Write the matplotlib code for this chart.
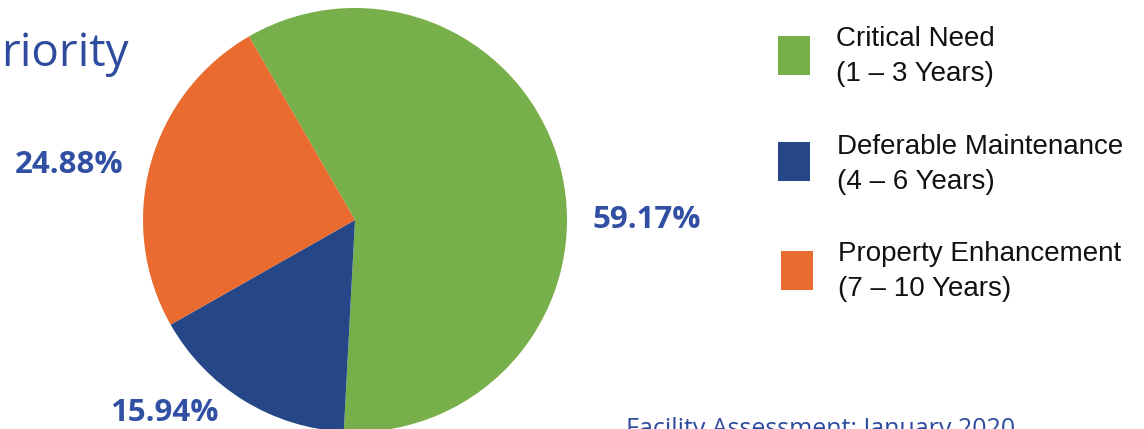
import numpy as np
import matplotlib.pyplot as plt
from matplotlib.patches import Rectangle

# data
categories = ['Critical Need', 'Deferable Maintenance', 'Property Enhancement']
periods = ['(1 – 3 Years)', '(4 – 6 Years)', '(7 – 10 Years)']
shares = [59.17, 15.94, 24.88]
colors = ['#77AF4B', '#264787', '#E96B2F']

# layout (pixel coords, y up)
W, H = 1144, 429
center = (355, 209)
radius = 212
label_pos = [(647, 209), (164, 16), (69, 264)]
legend_x = [778, 778, 781]
legend_y = [55, 161, 270]      # centre of each square (pixels from top)
text_x = [836, 837, 838]
text_y = [39, 147, 254]

fig = plt.figure(figsize=(W / 100, H / 100), dpi=100)
ax = fig.add_axes([0, 0, 1, 1])

ax.pie(shares, colors=colors, startangle=120, counterclock=False,
       center=center, radius=radius, wedgeprops=dict(linewidth=0),
       frame=True)
ax.set_xlim(0, W)
ax.set_ylim(0, H)
ax.set_aspect('equal')
ax.axis('off')

label_color = '#3150A3'
for v, (x, y) in zip(shares, label_pos):
    ax.text(x, y, f'{v:.2f}%', ha='center', va='center', fontsize=22.5,
            fontweight='bold', family='Open Sans', color=label_color)

# legend drawn by hand
for i in range(len(categories)):
    yc = H - legend_y[i]
    ax.add_patch(Rectangle((legend_x[i], yc - 19.5), 32, 39,
                           facecolor=colors[i], edgecolor='none'))
    ty = H - text_y[i]
    ax.text(text_x[i], ty, categories[i], ha='left', va='center',
            fontsize=20, family='Liberation Sans', color='#111111')
    ax.text(text_x[i], ty - 35, periods[i], ha='left', va='center',
            fontsize=20, family='Liberation Sans', color='#111111')

title_color = '#2F4B9E'
ax.text(1, H - 66, 'riority', ha='left', va='baseline', fontsize=33,
        family='Open Sans', color=title_color)
ax.text(626, H - 436, 'Facility Assessment: January 2020', ha='left',
        va='baseline', fontsize=18, family='Open Sans', color=title_color)

fig.savefig('out.png', dpi=100)
plt.close(fig)
